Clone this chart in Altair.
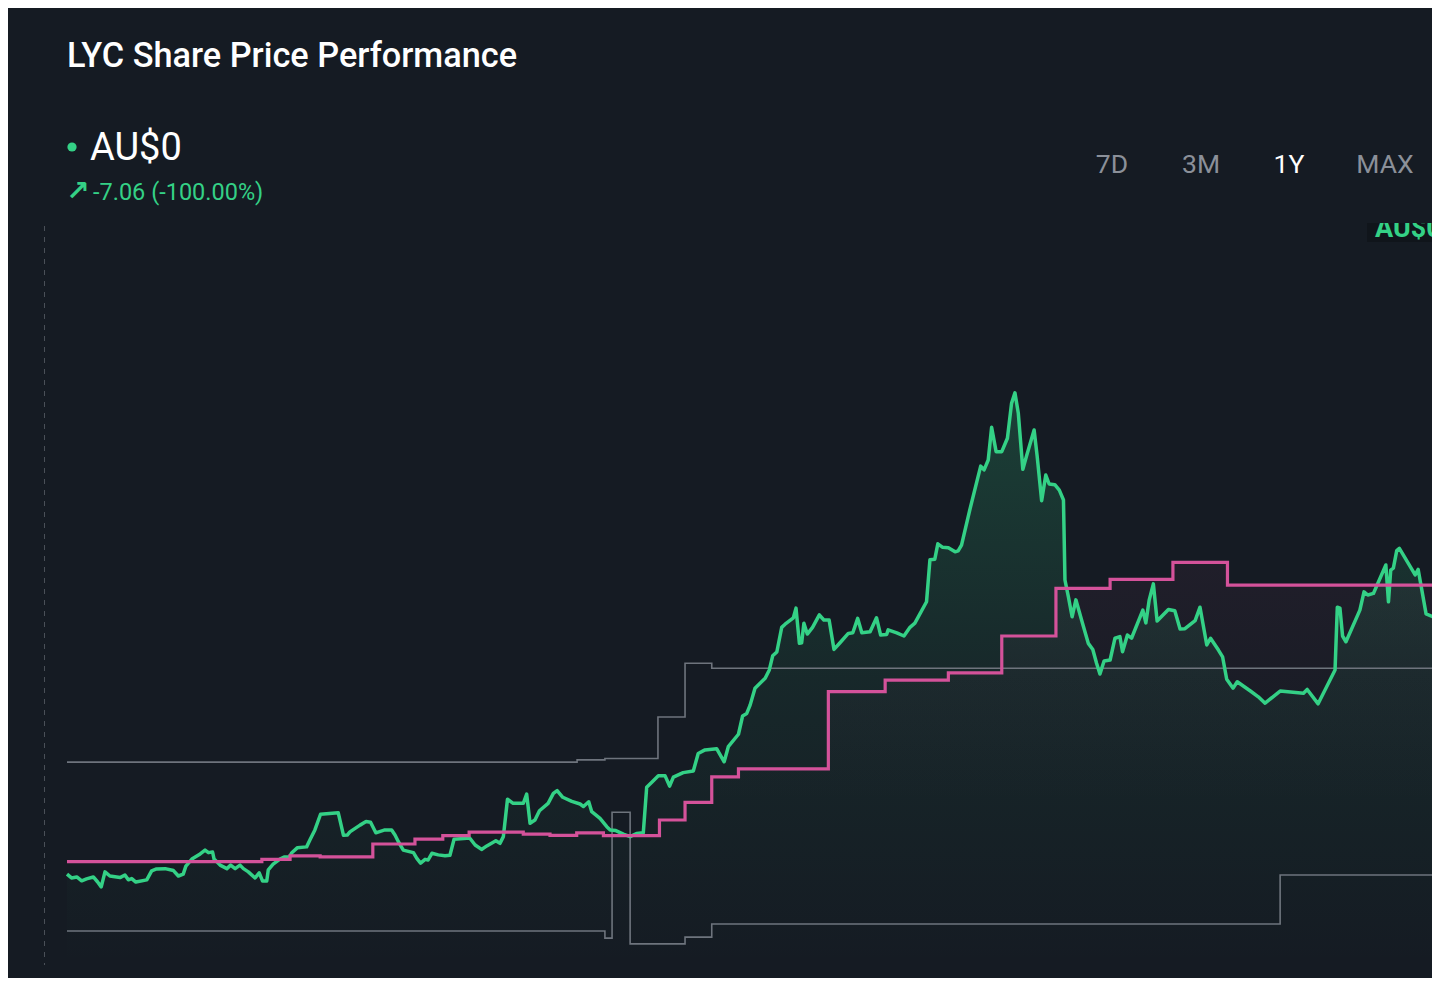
import altair as alt
import pandas as pd

# ---- data (day offset within the 1Y window, price in AU$) ----
green_day = [0, 1.2, 2.6, 3.9, 5.2, 7.0, 8.1, 9.1, 10.1, 11.4,
             14.1, 15.4, 16.3, 17.2, 18.3, 21.2, 22.5, 23.8, 26.1, 28.3,
             29.6, 30.9, 31.6, 33.2, 35.4, 36.7, 37.6, 38.7, 39.1, 40.7,
             42.5, 43.5, 44.7, 46.0, 46.9, 48.2, 50.0, 51.1, 52.0, 53.1,
             53.5, 54.8, 56.6, 57.7, 59.1, 59.7, 61.2, 63.7, 64.6, 65.9,
             67.4, 72.1, 73.5, 74.5, 75.2, 77.9, 79.5, 80.7, 82.1, 84.5,
             86.3, 87.2, 88.1, 89.4, 92.1, 93.0, 94.0, 95.2, 96.0, 97.0,
             98.7, 100.5, 101.8, 102.9, 106.3, 107.1, 108.5, 110.2, 111.6, 114.0,
             115.1, 116.0, 117.1, 118.6, 121.3, 122.2, 123.1, 124.4, 125.6, 127.9,
             129.3, 130.3, 131.8, 134.2, 136.4, 137.3, 138.7, 139.5, 141.7, 143.5,
             144.4, 145.9, 147.9, 149.7, 151.4, 153.2, 154.1, 155.4, 157.2, 159.0,
             160.2, 161.2, 163.8, 166.5, 167.8, 169.6, 172.7, 174.7, 175.8, 178.5,
             179.6, 180.7, 181.6, 182.9, 185.6, 186.7, 187.6, 188.7, 190.0, 190.9,
             193.1, 193.8, 194.7, 195.3, 195.9, 196.8, 198.2, 200.0, 201.2, 202.6,
             203.9, 205.5, 207.7, 208.9, 210.2, 211.3, 213.5, 215.2, 216.3, 217.9,
             218.3, 220.6, 222.5, 224.1, 225.4, 228.5, 229.4, 230.7, 231.5, 232.8,
             234.3, 236.1, 236.9, 237.8, 240.1, 242.9, 243.8, 244.9, 245.8, 247.0,
             248.5, 250.0, 251.1, 252.0, 252.9, 254.1, 255.1, 257.1, 257.9, 259.1,
             260.2, 261.1, 262.6, 263.8, 264.9, 265.3, 266.2, 267.2, 268.2, 270.0,
             271.5, 272.7, 273.7, 274.6, 275.7, 277.3, 278.6, 279.9, 280.6, 281.9,
             283.0, 286.0, 286.8, 287.7, 288.8, 289.8, 292.8, 294.5, 295.9, 297.2,
             299.9, 301.2, 303.0, 304.0, 306.1, 307.2, 308.3, 310.0, 311.1, 314.5,
             316.7, 318.5, 322.5, 328.7, 329.7, 332.6, 337.1, 337.7, 338.4, 339.1,
             340.0, 343.7, 344.8, 345.8, 347.3, 350.6, 351.3, 351.9, 352.6, 353.5,
             354.2, 358.4, 359.2, 361.3, 364.1, 365.0]

green_price = [7.06, 6.94, 6.97, 6.85, 6.91, 6.97, 6.82, 6.66, 7.13, 7.00,
               6.95, 7.03, 6.88, 6.92, 6.81, 6.88, 7.16, 7.22, 7.23, 7.17,
               7.00, 7.06, 7.31, 7.53, 7.69, 7.81, 7.73, 7.75, 7.53, 7.34,
               7.23, 7.34, 7.23, 7.34, 7.23, 7.13, 6.94, 7.10, 6.84, 6.84,
               7.19, 7.37, 7.53, 7.59, 7.59, 7.72, 7.88, 7.91, 8.13, 8.44,
               8.93, 8.98, 8.27, 8.28, 8.38, 8.59, 8.70, 8.68, 8.35, 8.44,
               8.44, 8.28, 8.07, 7.81, 7.73, 7.55, 7.40, 7.52, 7.50, 7.71,
               7.66, 7.63, 7.65, 8.15, 8.18, 8.18, 7.97, 7.83, 7.94, 8.10,
               8.02, 8.23, 9.40, 9.27, 9.27, 9.56, 8.65, 8.75, 9.04, 9.27,
               9.58, 9.67, 9.46, 9.33, 9.25, 9.17, 9.32, 9.01, 8.80, 8.54,
               8.44, 8.42, 8.31, 8.23, 8.33, 8.35, 9.77, 9.92, 10.13, 10.13,
               9.81, 10.09, 10.23, 10.28, 10.83, 10.94, 10.98, 10.57, 11.04, 11.43,
               12.00, 12.08, 12.34, 12.87, 13.18, 13.44, 13.88, 14.00, 14.77, 14.87,
               15.07, 15.37, 14.27, 14.29, 14.90, 14.56, 14.77, 15.16, 15.00, 15.00,
               14.08, 14.29, 14.58, 14.60, 15.05, 14.60, 14.63, 15.07, 14.53, 14.55,
               14.69, 14.60, 14.50, 14.77, 14.90, 15.57, 16.88, 16.90, 17.38, 17.27,
               17.26, 17.13, 17.16, 17.34, 18.49, 19.81, 19.69, 20.00, 21.02, 20.26,
               20.26, 20.68, 21.77, 22.10, 21.46, 19.71, 20.13, 20.94, 20.13, 18.73,
               19.53, 19.25, 19.23, 19.06, 18.75, 16.25, 15.73, 15.10, 15.63, 14.88,
               14.27, 14.08, 13.65, 13.31, 13.72, 13.75, 14.43, 14.48, 14.01, 14.53,
               14.43, 15.31, 14.91, 15.63, 16.13, 14.97, 15.33, 15.29, 14.72, 14.73,
               14.98, 15.40, 14.22, 14.43, 14.06, 13.85, 13.15, 12.87, 13.07, 12.79,
               12.60, 12.40, 12.78, 12.71, 12.83, 12.38, 13.44, 15.40, 15.37, 14.50,
               14.32, 15.31, 15.88, 15.78, 15.83, 16.72, 15.57, 16.56, 16.62, 17.17,
               17.24, 16.41, 16.58, 15.19, 15.05, 15.25]

target_day = [0, 51.8, 59.3, 67.3, 81.3, 92.5, 99.9, 106.9, 121.3, 128.4,
              135.5, 142.6, 157.5, 164.3, 171.4, 178.5, 202.4, 217.5, 234.3, 248.5,
              262.9, 277.3, 294.0, 308.5, 365.0]
target_avg = [7.45, 7.52, 7.63, 7.60, 8.00, 8.15, 8.26, 8.37, 8.31, 8.27,
              8.35, 8.26, 8.75, 9.30, 10.10, 10.35, 12.76, 13.12, 13.35, 14.50,
              15.99, 16.27, 16.80, 16.09, 16.09]

high_day = [0, 135.6, 143.0, 157.1, 164.3, 171.4, 365.0]
high_val = [10.56, 10.63, 10.67, 11.97, 13.65, 13.49, 13.49]

low_day = [0, 143.0, 144.9, 149.7, 164.3, 171.4, 322.5, 365.0]
low_val = [5.28, 5.06, 8.99, 4.88, 5.09, 5.50, 7.03, 7.03]

title_text = "LYC Share Price Performance"
price_text = "AU$0"
change_text = "-7.06 (-100.00%)"
ranges = ["7D", "3M", "1Y", "MAX"]

# ---- styling ----
BG = "#151b23"
GREEN = "#34d186"
PINK = "#d4529a"
GREY = "#6e747d"

price_df = pd.DataFrame({"day": green_day, "price": green_price})
target_df = pd.DataFrame({"day": target_day, "price": target_avg})
high_df = pd.DataFrame({"day": high_day, "price": high_val})
low_df = pd.DataFrame({"day": low_day, "price": low_val})

W, H = 1424, 970
PX_PER_DAY = 1373 / 365.0
x0 = -59 / PX_PER_DAY
xs = alt.Scale(domain=[x0, x0 + W / PX_PER_DAY], nice=False, zero=False)
ys = alt.Scale(domain=[(1092 - H) / 32.0, 1092 / 32.0], nice=False, zero=False)
X = alt.X("day:Q", scale=xs, axis=None)
Y = alt.Y("price:Q", scale=ys, axis=None)

green_grad = alt.Gradient(
    gradient="linear",
    stops=[alt.GradientStop(color="rgba(52,209,134,0.20)", offset=0),
           alt.GradientStop(color="rgba(52,209,134,0.07)", offset=0.5),
           alt.GradientStop(color="rgba(52,209,134,0.0)", offset=1)],
    x1=1, x2=1, y1=0, y2=1)
pink_grad = alt.Gradient(
    gradient="linear",
    stops=[alt.GradientStop(color="rgba(212,82,154,0.06)", offset=0),
           alt.GradientStop(color="rgba(212,82,154,0.0)", offset=0.6)],
    x1=1, x2=1, y1=0, y2=1)

pink_area = alt.Chart(target_df).mark_area(interpolate="step-after", color=pink_grad, clip=True).encode(
    x=X, y=Y, y2=alt.datum(4.2))
green_area = alt.Chart(price_df).mark_area(color=green_grad, clip=True).encode(
    x=X, y=Y, y2=alt.datum(4.2))
high_line = alt.Chart(high_df).mark_line(interpolate="step-after", color=GREY, strokeWidth=1.6, clip=True).encode(x=X, y=Y)
low_line = alt.Chart(low_df).mark_line(interpolate="step-after", color=GREY, strokeWidth=1.6, clip=True).encode(x=X, y=Y)
green_line = alt.Chart(price_df).mark_line(color=GREEN, strokeWidth=3.5, strokeJoin="round", clip=True).encode(x=X, y=Y)
pink_line = alt.Chart(target_df).mark_line(interpolate="step-after", color=PINK, strokeWidth=3.2, clip=True).encode(x=X, y=Y)

one = pd.DataFrame({"a": [0]})

dashed = alt.Chart(one).mark_rule(color="#4a5058", strokeWidth=1, strokeDash=[5, 6]).encode(
    x=alt.value(36.5), y=alt.value(218), y2=alt.value(957))

def label(txt, x, y, size, color, weight="normal", align="left", baseline="alphabetic", font="Roboto"):
    return alt.Chart(pd.DataFrame({"t": [txt]})).mark_text(
        align=align, baseline=baseline, fontSize=size, color=color, fontWeight=weight, font=font
    ).encode(x=alt.value(x), y=alt.value(y), text="t:N")

title = label(title_text, 59, 58.5, 34.3, "#ffffff", weight=500)
dot = alt.Chart(one).mark_circle(color=GREEN, opacity=1, size=85).encode(x=alt.value(64), y=alt.value(139))
price_lbl = label(price_text, 82, 151.5, 38, "#ffffff")
arrow = label("↗", 70, 184, 28, GREEN, weight="bold", align="center", baseline="middle", font="DejaVu Sans")
change_lbl = label(change_text, 85, 191.5, 23.5, GREEN)

range_x = [1104, 1193, 1281, 1377]
range_col = ["#8b9099", "#8b9099", "#ffffff", "#8b9099"]
range_lbls = [label(t, x, 165, 26.5, c, align="center") for t, x, c in zip(ranges, range_x, range_col)]

tag_box = alt.Chart(one).mark_rect(color="#10151b").encode(
    x=alt.value(1359), x2=alt.value(W), y=alt.value(214), y2=alt.value(234))
tag_txt = label(price_text, 1367, 228.5, 27, GREEN, weight="bold")
tag_cover = alt.Chart(one).mark_rect(color=BG).encode(
    x=alt.value(1352), x2=alt.value(W), y=alt.value(190), y2=alt.value(215))

chart = alt.layer(
    pink_area, green_area, high_line, low_line, green_line, pink_line,
    dashed, title, dot, price_lbl, arrow, change_lbl, *range_lbls,
    tag_box, tag_txt, tag_cover
).properties(
    width=W, height=H, padding=0, background=BG,
    autosize=alt.AutoSizeParams(type="none", contains="padding")
).configure_view(stroke=None)

chart.save("out.html", embed_options={"renderer": "svg", "actions": False})
